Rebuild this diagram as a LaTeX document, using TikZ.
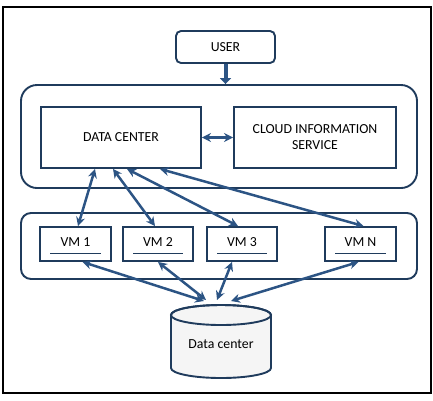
\documentclass[tikz,border=0pt]{standalone}
\usepackage{fontspec}
\setmainfont{Carlito}
\usetikzlibrary{arrows.meta,calc}
\definecolor{boxc}{HTML}{1F3B5C}
\definecolor{arrc}{HTML}{2C5484}
\begin{document}
\begin{tikzpicture}[x=1pt,y=-1pt,
  box/.style={draw=boxc,line width=1.9pt,fill=white,inner sep=0pt,font=\fontsize{13.8}{16}\selectfont,align=center},
  grp/.style={draw=boxc,line width=1.9pt,inner sep=0pt},
  vmbox/.style={box,minimum width=71pt,minimum height=34pt,text height=9pt,text depth=5pt},
  conn/.style={draw=arrc,line width=2.5pt,{Stealth[length=9pt,width=9pt]}-{Stealth[length=9pt,width=9pt]}},
]
\useasboundingbox (0,0) rectangle (433,400);
\draw[line width=2.2pt] (3,7) rectangle (431,393);

% groups
\node[grp,rounded corners=16pt,minimum width=396pt,minimum height=103pt] (topgrp) at (219,136.5) {};
\node[grp,rounded corners=10pt,minimum width=396pt,minimum height=66pt] (vmgrp) at (219,246) {};

% boxes
\node[box,rounded corners=5pt,minimum width=99pt,minimum height=32pt] (user) at (225.5,47) {USER};
\node[box,minimum width=160pt,minimum height=61pt] (dc) at (121,137.5) {DATA CENTER};
\node[box,minimum width=162pt,minimum height=61pt] (cis) at (315,137.5) {CLOUD INFORMATION\\SERVICE};

\node[vmbox] (vm1) at (75.5,244) {VM 1};
\node[vmbox,minimum width=70pt] (vm2) at (158,244) {VM 2};
\node[vmbox,minimum width=70pt] (vm3) at (242,244) {VM 3};
\node[vmbox] (vmn) at (360.5,244) {VM N};

\foreach \v in {vm1,vm2,vm3,vmn}
  \draw[boxc,line width=0.6pt] ([xshift=11pt,yshift=9pt]\v.south west) -- ([xshift=-11pt,yshift=9pt]\v.south east);

% cylinder
\filldraw[draw=boxc,fill=gray!8,line width=1.9pt]
  (171,315) -- (171,368) arc[start angle=180,end angle=360,x radius=50pt,y radius=10pt]
  -- (271,315) arc[start angle=0,end angle=180,x radius=50pt,y radius=10pt] -- cycle;
\draw[boxc,line width=1.9pt] (221,315) ellipse [x radius=50pt,y radius=10pt];
\node[font=\fontsize{13.8}{16}\selectfont] (cyl) at (221,344) {Data center};

\coordinate (t1) at (204,301);
\coordinate (t2) at (206,300);
\coordinate (t3) at (217,300);
\coordinate (t4) at (231,301);

% connectors
\draw[arrc,line width=4pt,-{Triangle[length=6pt,width=11pt]}] (user.south) -- (user.south |- topgrp.north);
\draw[conn,line width=3.5pt] (dc.east) -- (cis.west);

\draw[conn] ([xshift=-26pt]dc.south) -- ([xshift=2.5pt]vm1.north);
\draw[conn] ([xshift=-8pt]dc.south) -- ([xshift=-3pt]vm2.north);
\draw[conn] ([xshift=6pt]dc.south) -- ([xshift=-4pt]vm3.north);
\draw[conn] ([xshift=39pt]dc.south) -- ([xshift=3pt]vmn.north);

\draw[conn] ([xshift=7pt]vm1.south) -- (t1);
\draw[conn] (vm2.south) -- (t2);
\draw[conn] ([xshift=-10pt]vm3.south) -- (t3);
\draw[conn] ([xshift=-2pt]vmn.south) -- (t4);
\end{tikzpicture}
\end{document}
